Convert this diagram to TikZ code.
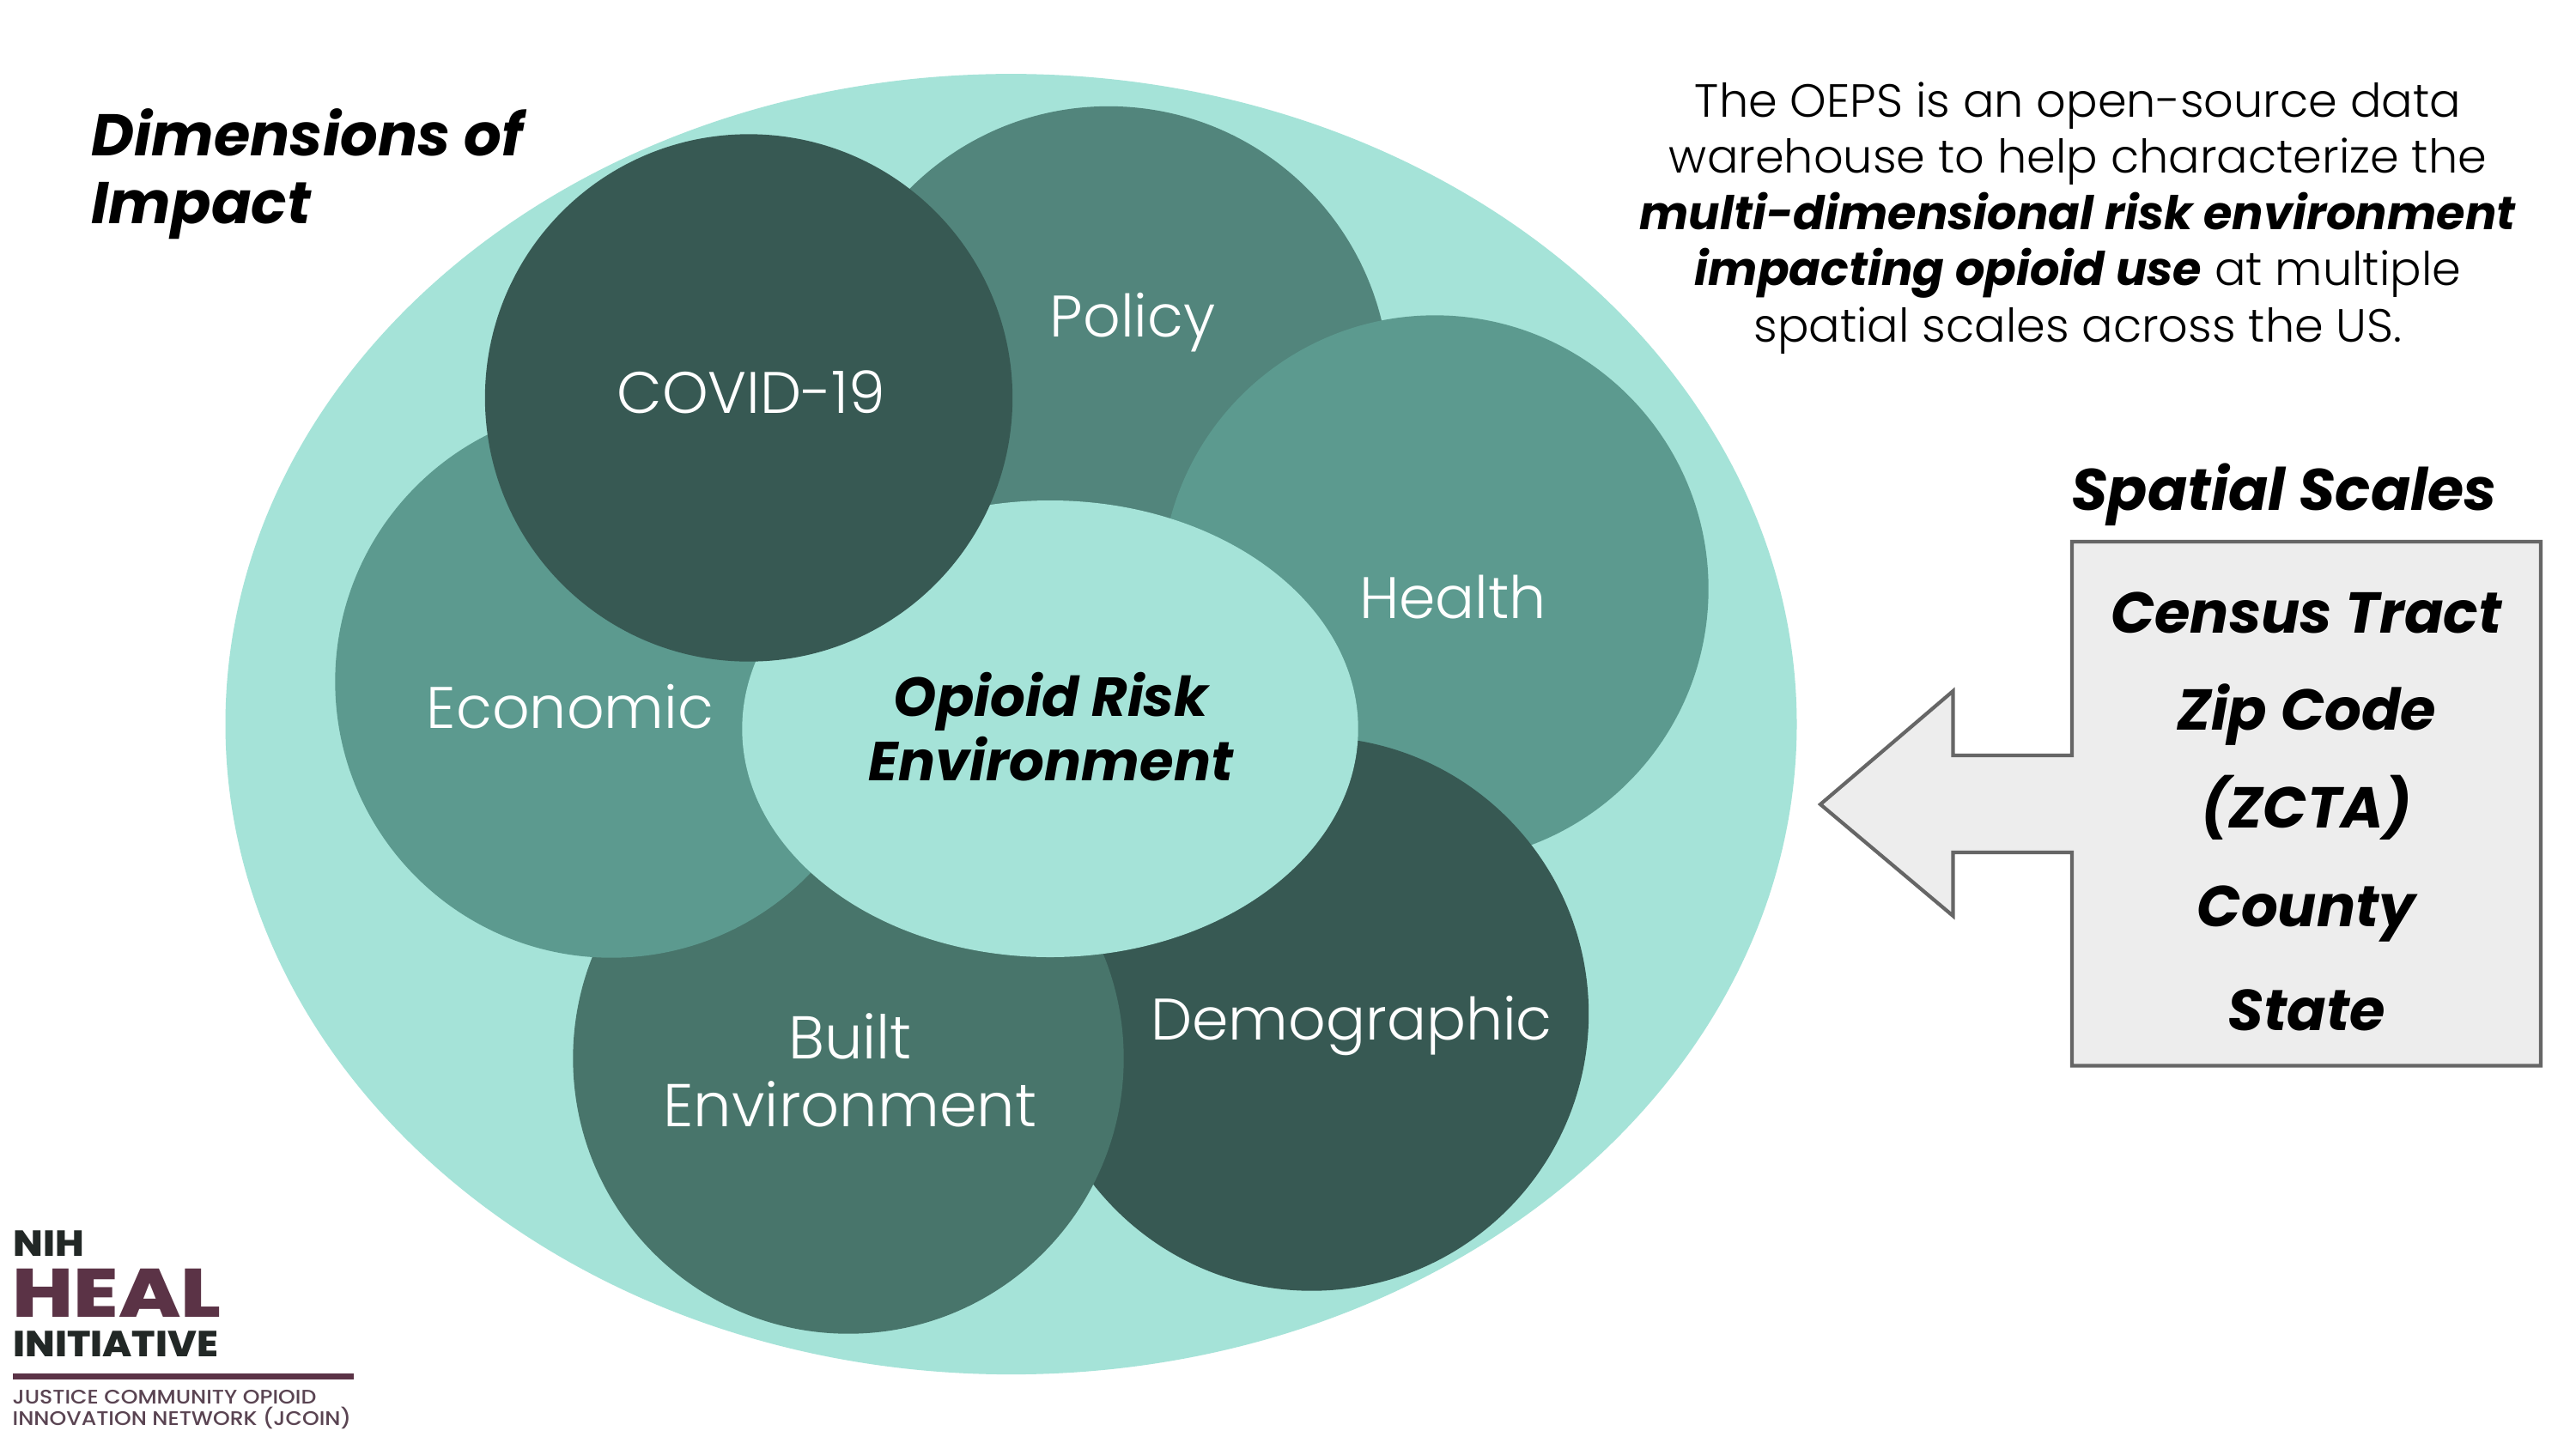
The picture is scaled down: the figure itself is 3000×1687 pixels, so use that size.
\documentclass[tikz,border=0pt]{standalone}
\usepackage{fontspec}
\setmainfont{Poppins}[UprightFont=* Light,BoldItalicFont=* Bold Italic,BoldFont=* Bold]
\newfontfamily\logoheal{Poppins}[UprightFont=* ExtraBold,FakeStretch=1.2]
\newfontfamily\logobold{Poppins}[UprightFont=* ExtraBold,FakeStretch=1.075]
\newfontfamily\logotext{Poppins}[UprightFont=* Medium,FakeStretch=1.1]
\definecolor{bigc}{HTML}{A5E3D8}
\definecolor{polc}{HTML}{52857C}
\definecolor{midc}{HTML}{5C9A8F}
\definecolor{darkc}{HTML}{375953}
\definecolor{bltc}{HTML}{48756B}
\definecolor{boxc}{HTML}{EDEDED}
\definecolor{boxl}{HTML}{666666}
\definecolor{healc}{HTML}{5B3346}
\definecolor{logod}{HTML}{222826}
\definecolor{logot}{HTML}{5A4452}
\tikzset{x=0.01cm,y=-0.01cm,
 blob/.style={circle,inner sep=0pt,draw=none},
 lbl/.style={text=white,font=\fontsize{19.4}{22.4}\selectfont,align=center,inner sep=0pt},
 head/.style={text=black,font=\fontsize{19.5}{22.4}\selectfont\bfseries\itshape,inner sep=0pt},
 scaleitem/.style={text=black,font=\fontsize{19.1}{22}\selectfont\bfseries\itshape,inner sep=0pt,anchor=center},
 logoline/.style={inner sep=0pt,anchor=base west}}
\begin{document}
\begin{tikzpicture}
\useasboundingbox (0,0) rectangle (3000,1687);
\fill[white] (0,0) rectangle (3000,1687);
\fill[bigc] (1177.5,843.6) ellipse [x radius=915,y radius=757.5];
\node[blob,fill=polc,minimum size=6.54cm] (policy) at (1291,451) {};
\node[blob,fill=midc,minimum size=6.37cm] (health) at (1671,686) {};
\node[blob,fill=darkc,minimum size=6.45cm] (demo) at (1527.5,1181) {};
\node[blob,fill=bltc,minimum size=6.41cm] (built) at (988,1233) {};
\node[blob,fill=midc,minimum size=6.43cm] (econ) at (712,794) {};
\fill[bigc] (1223,849) ellipse [x radius=358.7,y radius=266];
\node[blob,fill=darkc,minimum size=6.14cm] (covid) at (872,463.5) {};
\node[lbl] (tpolicy) at (1319,376) {Policy};
\node[lbl] (thealth) at (1692,696) {Health};
\node[lbl] (tcovid) at (875,457) {COVID-19};
\node[lbl] (tecon) at (664,823) {Economic};
\node[lbl] (tdemo) at (1574,1195) {Demographic};
\node[lbl,font=\fontsize{20}{22.4}\selectfont] (tbuilt) at (990,1247) {Built\\Environment};
\node[head,font=\fontsize{18.2}{21.3}\selectfont\bfseries\itshape,align=center] (tcentre) at (1224,847) {Opioid Risk\\Environment};
\node[head,align=left,anchor=west] (tdims) at (106,203) {Dimensions of\\Impact};
\node[text=black,align=center,inner sep=0pt,font=\fontsize{15.4}{18.6}\selectfont] (tintro) at (2420,254) {The OEPS is an open-source data\\warehouse to help characterize the\\\textbf{\textit{multi-dimensional risk environment}}\\\textbf{\textit{impacting opioid use}} at multiple\\spatial scales across the US.};
\node[head,font=\fontsize{19.4}{22}\selectfont\bfseries\itshape] (tspatial) at (2660,576) {Spatial Scales};
\draw[fill=boxc,draw=boxl,line width=1.2pt,line join=miter] (2413,631) -- (2959,631) -- (2959,1241.5) -- (2413,1241.5) -- (2413,993) -- (2274.5,993) -- (2274.5,1067) -- (2120,937) -- (2274.5,805) -- (2274.5,880) -- (2413,880) -- cycle;
\node[scaleitem] (s1) at (2686,714) {Census Tract};
\node[scaleitem] (s2) at (2686,833) {Zip Code};
\node[scaleitem] (s3) at (2686,941) {(ZCTA)};
\node[scaleitem] (s4) at (2686,1065) {County};
\node[scaleitem] (s5) at (2686,1177) {State};
\node[logoline,text=logod,font=\fontsize{12}{12}\logobold] (nih) at (15,1463) {NIH};
\node[logoline,text=healc,font=\fontsize{22.7}{23}\logoheal] (heal) at (14,1534) {HEAL};
\node[logoline,text=logod,font=\fontsize{12}{12}\logobold] (init) at (15,1580) {INITIATIVE};
\fill[healc] (15,1600) rectangle (412,1607);
\node[logoline,text=logot,font=\fontsize{6.5}{7}\logotext] (j1) at (14,1635) {JUSTICE COMMUNITY OPIOID};
\node[logoline,text=logot,font=\fontsize{6.5}{7}\logotext] (j2) at (14,1660) {INNOVATION NETWORK (JCOIN)};
\end{tikzpicture}
\end{document}
